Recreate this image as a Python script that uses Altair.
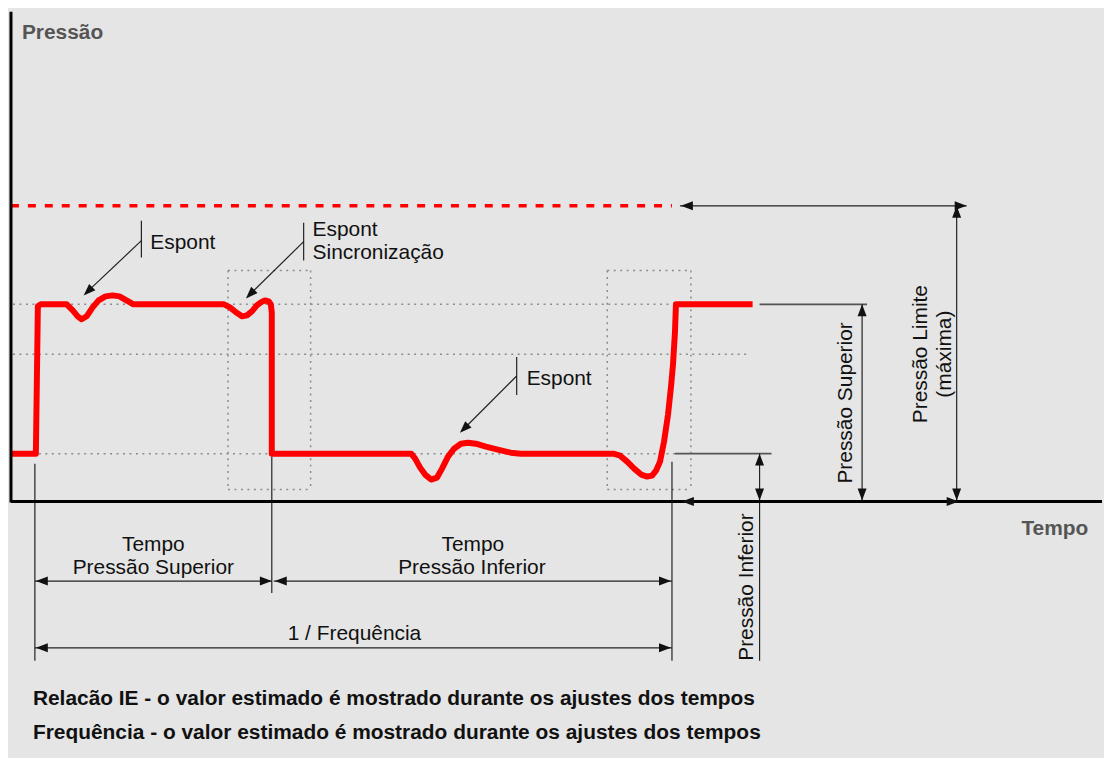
import altair as alt
import pandas as pd

W, H = 1096, 748

# ---- red pressure waveform (time -> x, pressure -> y, picture coordinates) ----
wave_x = [8, 33, 35, 38, 64, 70, 75, 79, 84, 90, 96, 103, 110, 117, 124, 131, 222, 228, 234, 240, 245,
          250, 255, 259, 263, 267, 269, 270, 270, 410, 414, 419, 424, 430, 436, 441, 447, 453, 460, 467,
          475, 485, 497, 510, 520, 613, 620, 627, 634, 641, 647, 652, 656, 660, 664, 668, 671, 673, 675,
          676, 753]
wave_y = [452, 452, 304, 302, 302, 308, 314, 317, 314, 305, 298, 294, 293, 294, 298, 302, 302, 305, 310,
          314, 313, 309, 303, 300, 298, 299, 302, 310, 452, 452, 457, 466, 473, 478, 476, 467, 455, 447,
          442, 441, 442, 445, 448, 451, 452, 452, 454, 460, 467, 473, 475, 474, 469, 460, 440, 413, 385,
          363, 330, 302, 302]

# pressure limit (red dashed)
limit_x = [8]
limit_y = [203]
limit_x2 = [672]
limit_y2 = [203]

# dotted guide lines / boxes
dot_x1 = [10, 10, 10, 226, 309, 226, 226, 607, 691, 607, 607]
dot_y1 = [302, 352, 452, 268, 268, 268, 488, 268, 268, 268, 488]
dot_x2 = [676, 751, 676, 226, 309, 309, 309, 607, 691, 691, 691]
dot_y2 = [302, 352, 452, 488, 488, 268, 488, 488, 488, 268, 488]

# gray level reference lines
ref_x1 = [760, 675]
ref_y1 = [302, 452]
ref_x2 = [868, 772]
ref_y2 = [302, 452]

# thin dimension / annotation lines
dim_x1 = [680, 958, 863, 760, 32, 270, 672, 32, 272, 32, 139, 302, 516, 139, 302, 516]
dim_y1 = [203, 203, 302, 452, 462, 455, 460, 580, 580, 647, 218, 220, 355, 238, 239, 374]
dim_x2 = [968, 958, 863, 760, 32, 270, 672, 270, 672, 672, 139, 302, 516, 84, 247, 461]
dim_y2 = [203, 500, 500, 660, 660, 592, 660, 580, 580, 647, 255, 258, 393, 290, 293, 429]

# axes
axis_x1 = [8, 8]
axis_y1 = [8, 500]
axis_x2 = [8, 1104]
axis_y2 = [501, 500]

# arrow heads (tip position, direction angle in degrees, clockwise from right)
arr_x = [681, 968, 682, 960, 33, 270, 273, 671, 33, 671, 863, 863, 760, 760, 958, 958, 81, 244, 459]
arr_y = [203, 203, 500, 500, 580, 580, 580, 580, 647, 647, 302, 499, 452, 499, 203, 499, 293, 296, 431]
arr_a = [180, 0, 180, 0, 180, 0, 180, 0, 180, 0, 270, 90, 270, 90, 270, 90, 136, 135, 135]

# texts
lab_left_text = ["Espont", "Espont", "Sincronização", "Espont"]
lab_left_x = [148, 311, 311, 526]
lab_left_y = [246, 233, 256, 383]

lab_center_text = ["Tempo", "Pressão Superior", "Tempo", "Pressão Inferior", "1 / Frequência"]
lab_center_x = [151, 151, 472, 471, 353]
lab_center_y = [550, 573, 550, 573, 639]

lab_rot_text = ["Pressão Superior", "Pressão Limite", "(máxima)", "Pressão Inferior"]
lab_rot_x = [853, 928, 952, 753]
lab_rot_y = [401, 352, 352, 586]

axis_title_text = ["Pressão", "Tempo"]
axis_title_x = [19, 1023]
axis_title_y = [35, 534]

note_text = ["Relacão IE - o valor estimado é mostrado durante os ajustes dos tempos",
             "Frequência - o valor estimado é mostrado durante os ajustes dos tempos"]
note_x = [30, 30]
note_y = [704, 739]

xs = alt.Scale(domain=[8, 8 + W], zero=False, nice=False)
ys = alt.Scale(domain=[8, 8 + H], zero=False, nice=False, reverse=True)
FONT = "Liberation Sans"


def rules(x1, y1, x2, y2, color, width, dash=None, cap="butt"):
    df = pd.DataFrame({"x": x1, "y": y1, "x2": x2, "y2": y2})
    kw = dict(color=color, strokeWidth=width, strokeCap=cap)
    if dash:
        kw["strokeDash"] = dash
    return alt.Chart(df).mark_rule(**kw).encode(
        x=alt.X("x:Q", scale=xs, axis=None),
        y=alt.Y("y:Q", scale=ys, axis=None),
        x2="x2:Q", y2="y2:Q")


def texts(t, x, y, **kw):
    df = pd.DataFrame({"t": t, "x": x, "y": y})
    return alt.Chart(df).mark_text(font=FONT, baseline="alphabetic", **kw).encode(
        x=alt.X("x:Q", scale=xs, axis=None),
        y=alt.Y("y:Q", scale=ys, axis=None),
        text="t:N")


wave_df = pd.DataFrame({"x": wave_x, "y": wave_y, "i": list(range(len(wave_x)))})
wave = alt.Chart(wave_df).mark_line(color="#ff0000", strokeWidth=6, strokeJoin="round",
                                    strokeCap="butt").encode(
    x=alt.X("x:Q", scale=xs, axis=None),
    y=alt.Y("y:Q", scale=ys, axis=None),
    order="i:Q")

ARROW = "M0,0L-2,-0.75L-2,0.75Z"
arr_df = pd.DataFrame({"x": arr_x, "y": arr_y, "a": arr_a})
arrows = alt.Chart(arr_df).mark_point(shape=ARROW, filled=True, size=144, color="#111",
                                      opacity=1).encode(
    x=alt.X("x:Q", scale=xs, axis=None),
    y=alt.Y("y:Q", scale=ys, axis=None),
    angle=alt.Angle("a:Q", scale=None))

layers = [
    rules(dot_x1, dot_y1, dot_x2, dot_y2, "#8c8c8c", 1.5, dash=[2, 4.5]),
    rules(ref_x1, ref_y1, ref_x2, ref_y2, "#555555", 1.8),
    rules(limit_x, limit_y, limit_x2, limit_y2, "#ff0000", 3.5, dash=[8, 9]),
    wave,
    rules(dim_x1, dim_y1, dim_x2, dim_y2, "#222222", 1.2),
    rules(axis_x1, axis_y1, axis_x2, axis_y2, "#000000", 3),
    arrows,
    texts(lab_left_text, lab_left_x, lab_left_y, fontSize=21, align="left", color="#111111"),
    texts(lab_center_text, lab_center_x, lab_center_y, fontSize=21, align="center", color="#111111"),
    texts(lab_rot_text, lab_rot_x, lab_rot_y, fontSize=21, align="center", angle=270, color="#111111"),
    texts(axis_title_text, axis_title_x, axis_title_y, fontSize=21, fontWeight="bold",
          align="left", color="#555555"),
    texts(note_text, note_x, note_y, fontSize=21, fontWeight="bold", align="left", color="#111111"),
]

chart = alt.layer(*layers).properties(
    width=W, height=H, background="#e5e5e5", padding=0
).configure_view(stroke=None)

chart.save("out.html", embed_options={"renderer": "svg", "actions": False})
